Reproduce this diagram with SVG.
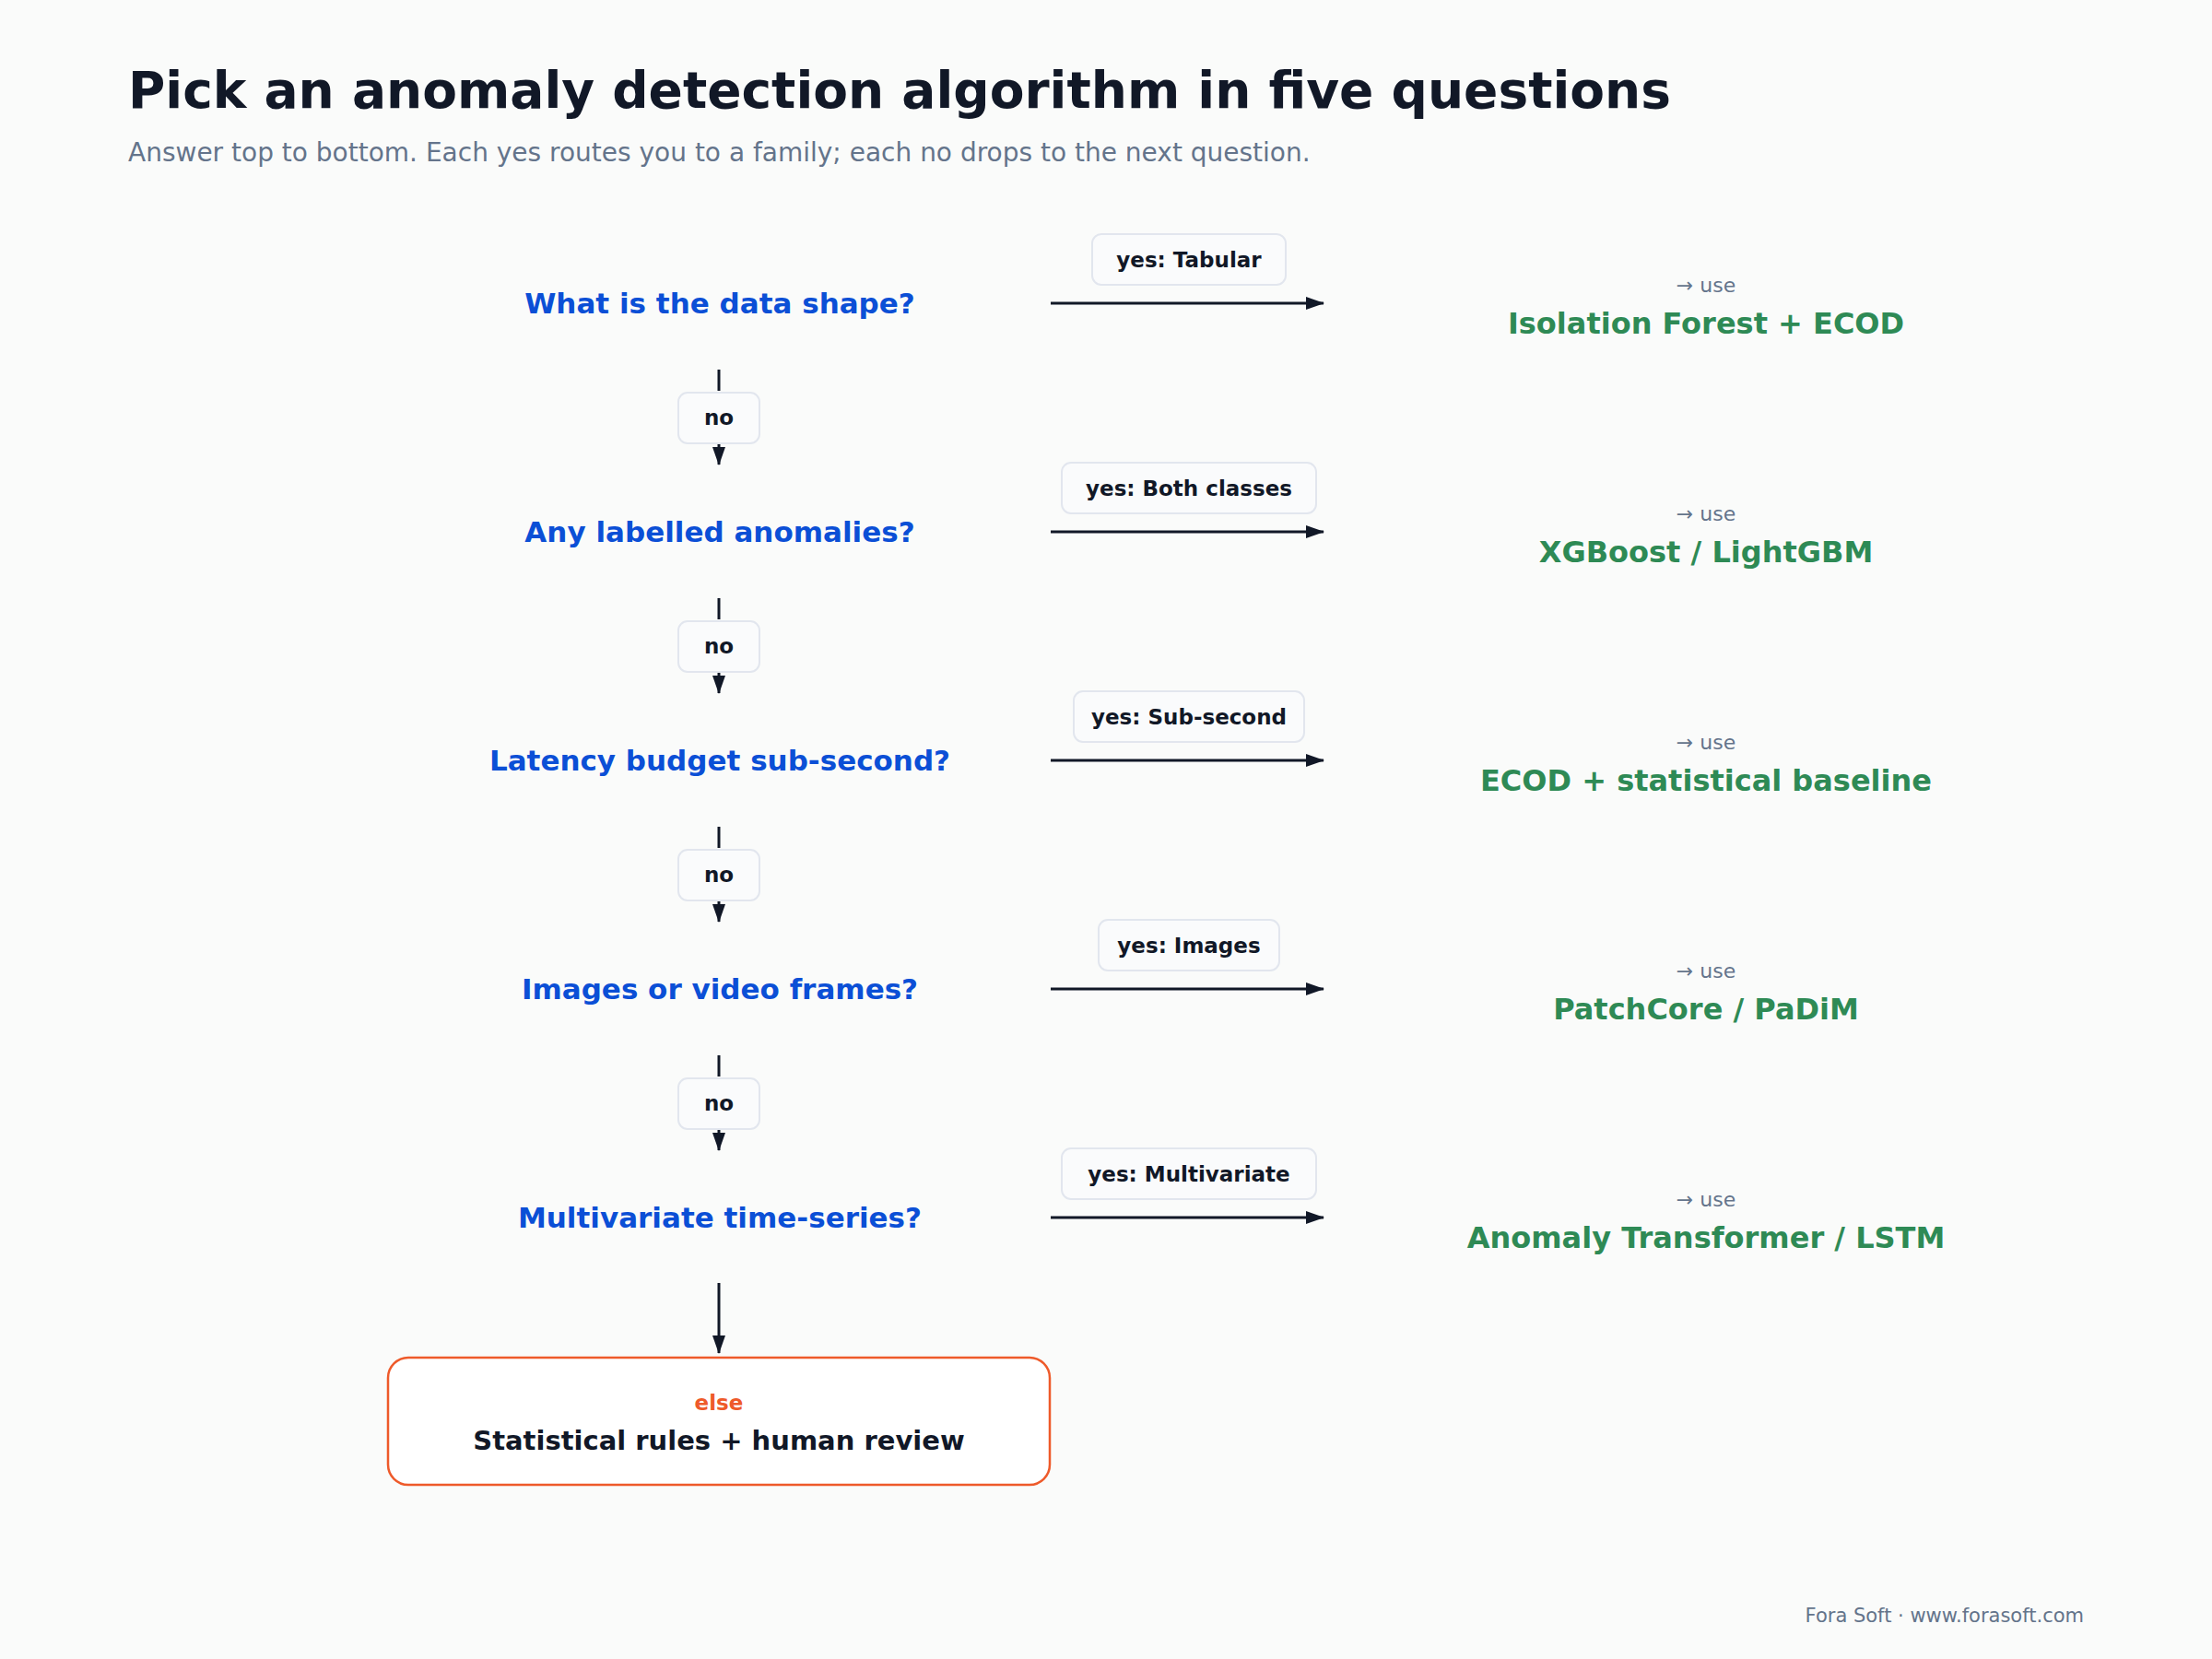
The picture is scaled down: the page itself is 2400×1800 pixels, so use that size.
<svg xmlns="http://www.w3.org/2000/svg" width="2400" height="1800" viewBox="0 0 2400 1800">
<style>
text{font-family:"DejaVu Sans","Liberation Sans",sans-serif}
.q{font-size:31px;font-weight:bold;fill:#0b4fd6;text-anchor:middle}
.lbl{font-size:23px;font-weight:bold;fill:#111827;text-anchor:middle}
.pill{fill:#fafbfc;stroke:#e2e6ee;stroke-width:2}
.use{font-size:22px;fill:#64748b;text-anchor:middle}
.res{font-size:32px;font-weight:bold;fill:#2e8a55;text-anchor:middle}
.ln{stroke:#111827;stroke-width:3;fill:none}
</style>
<defs><marker id="ah" markerWidth="10" markerHeight="8" refX="9" refY="4" orient="auto" markerUnits="userSpaceOnUse" viewBox="0 0 10 8"><path d="M0,0L10,4L0,8z" fill="#111827"/></marker>
<marker id="ah2" markerWidth="20" markerHeight="14" refX="19" refY="7" orient="auto" markerUnits="userSpaceOnUse"><path d="M0,0L20,7L0,14z" fill="#111827"/></marker></defs>
<rect width="2400" height="1800" fill="#fafbfa"/>
<text x="139" y="117" font-size="55" font-weight="bold" fill="#111827">Pick an anomaly detection algorithm in five questions</text>
<text x="139" y="175" font-size="28" fill="#64748b">Answer top to bottom. Each yes routes you to a family; each no drops to the next question.</text>
<g id="connectors">
<line class="ln" x1="1140" y1="329" x2="1436" y2="329" marker-end="url(#ah2)"/>
<line class="ln" x1="1140" y1="577" x2="1436" y2="577" marker-end="url(#ah2)"/>
<line class="ln" x1="1140" y1="825" x2="1436" y2="825" marker-end="url(#ah2)"/>
<line class="ln" x1="1140" y1="1073" x2="1436" y2="1073" marker-end="url(#ah2)"/>
<line class="ln" x1="1140" y1="1321" x2="1436" y2="1321" marker-end="url(#ah2)"/>
<g id="no1"><line class="ln" x1="780" y1="401" x2="780" y2="424"/><line class="ln" x1="780" y1="482" x2="780" y2="504" marker-end="url(#ah2)"/><rect class="pill" x="736" y="426" width="88" height="55" rx="10"/><text class="lbl" x="780" y="461">no</text></g>
<g id="no2"><line class="ln" x1="780" y1="649" x2="780" y2="672"/><line class="ln" x1="780" y1="730" x2="780" y2="752" marker-end="url(#ah2)"/><rect class="pill" x="736" y="674" width="88" height="55" rx="10"/><text class="lbl" x="780" y="709">no</text></g>
<g id="no3"><line class="ln" x1="780" y1="897" x2="780" y2="920"/><line class="ln" x1="780" y1="978" x2="780" y2="1000" marker-end="url(#ah2)"/><rect class="pill" x="736" y="922" width="88" height="55" rx="10"/><text class="lbl" x="780" y="957">no</text></g>
<g id="no4"><line class="ln" x1="780" y1="1145" x2="780" y2="1168"/><line class="ln" x1="780" y1="1226" x2="780" y2="1248" marker-end="url(#ah2)"/><rect class="pill" x="736" y="1170" width="88" height="55" rx="10"/><text class="lbl" x="780" y="1205">no</text></g>
<line class="ln" x1="780" y1="1392" x2="780" y2="1468" marker-end="url(#ah2)"/>
<g id="y1"><rect class="pill" x="1185" y="254" width="210" height="55" rx="10"/><text class="lbl" x="1290" y="290">yes: Tabular</text></g>
<g id="y2"><rect class="pill" x="1152" y="502" width="276" height="55" rx="10"/><text class="lbl" x="1290" y="538">yes: Both classes</text></g>
<g id="y3"><rect class="pill" x="1165" y="750" width="250" height="55" rx="10"/><text class="lbl" x="1290" y="786">yes: Sub-second</text></g>
<g id="y4"><rect class="pill" x="1192" y="998" width="196" height="55" rx="10"/><text class="lbl" x="1290" y="1034">yes: Images</text></g>
<g id="y5"><rect class="pill" x="1152" y="1246" width="276" height="55" rx="10"/><text class="lbl" x="1290" y="1282">yes: Multivariate</text></g>
</g>
<g id="q1"><text class="q" x="781" y="340">What is the data shape?</text></g>
<g id="q2"><text class="q" x="781" y="588">Any labelled anomalies?</text></g>
<g id="q3"><text class="q" x="781" y="836">Latency budget sub-second?</text></g>
<g id="q4"><text class="q" x="781" y="1084">Images or video frames?</text></g>
<g id="q5"><text class="q" x="781" y="1332">Multivariate time-series?</text></g>
<g id="r1"><text class="use" x="1851" y="317">→ use</text><text class="res" x="1851" y="362">Isolation Forest + ECOD</text></g>
<g id="r2"><text class="use" x="1851" y="565">→ use</text><text class="res" x="1851" y="610">XGBoost / LightGBM</text></g>
<g id="r3"><text class="use" x="1851" y="813">→ use</text><text class="res" x="1851" y="858">ECOD + statistical baseline</text></g>
<g id="r4"><text class="use" x="1851" y="1061">→ use</text><text class="res" x="1851" y="1106">PatchCore / PaDiM</text></g>
<g id="r5"><text class="use" x="1851" y="1309">→ use</text><text class="res" x="1851" y="1354">Anomaly Transformer / LSTM</text></g>
<g id="else"><rect x="421" y="1473" width="718" height="138" rx="22" fill="#fff" stroke="#ee5a2a" stroke-width="2.5"/>
<text x="780" y="1530" font-size="23" font-weight="bold" fill="#ee5a2a" text-anchor="middle">else</text>
<text x="780" y="1573" font-size="29" font-weight="bold" fill="#111827" text-anchor="middle">Statistical rules + human review</text></g>
<text x="2261" y="1760" font-size="21" fill="#64748b" text-anchor="end">Fora Soft · www.forasoft.com</text>
</svg>
